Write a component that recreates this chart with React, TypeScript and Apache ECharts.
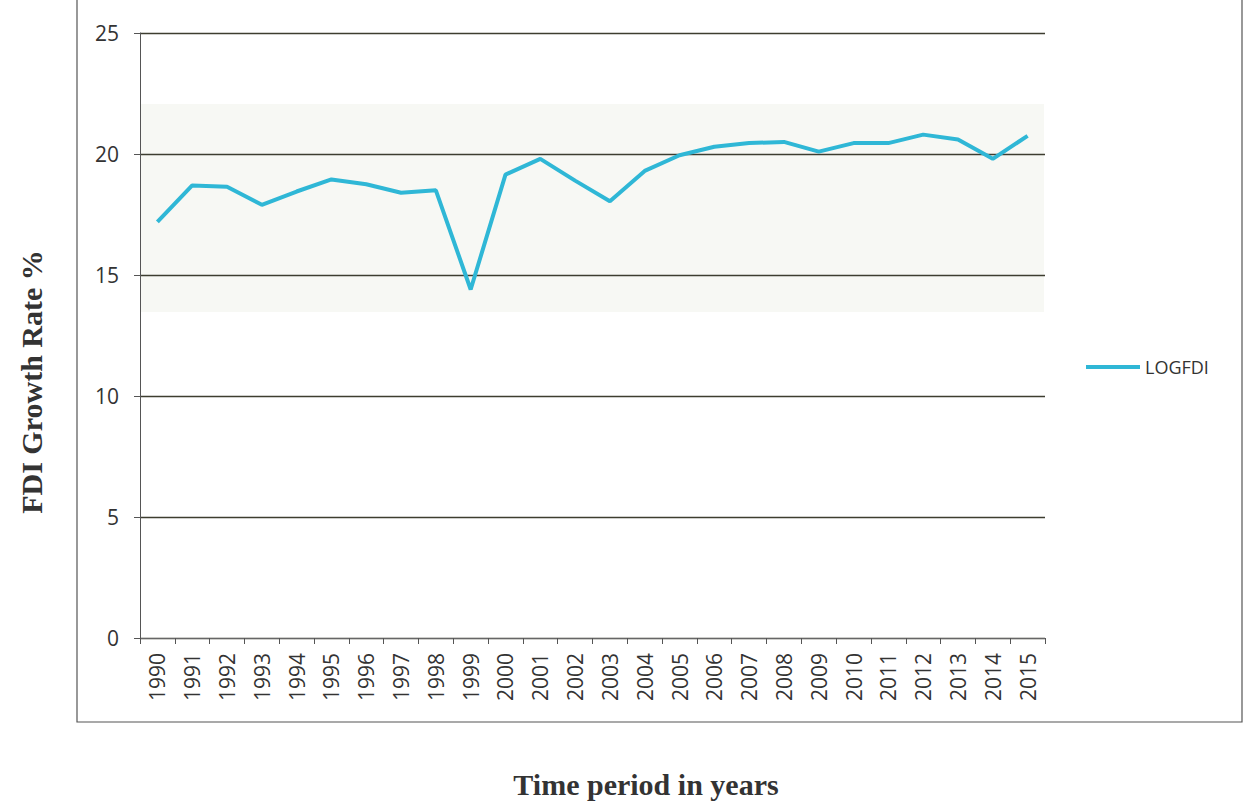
import React, { useEffect, useRef } from "react";
import * as echarts from "echarts";

const years = ["1990","1991","1992","1993","1994","1995","1996","1997","1998","1999","2000","2001","2002","2003","2004","2005","2006","2007","2008","2009","2010","2011","2012","2013","2014","2015"];
const logfdi = [17.2,18.7,18.65,17.9,18.45,18.95,18.75,18.4,18.5,14.4,19.15,19.8,18.9,18.05,19.3,19.95,20.3,20.45,20.5,20.1,20.45,20.45,20.8,20.6,19.8,20.75];
const yTicks = { min: 0, max: 25, interval: 5 };
const seriesName = "LOGFDI";
const xTitle = "Time period in years";
const yTitle = "FDI Growth Rate %";

export default function App() {
  const ref = useRef<HTMLDivElement>(null);
  useEffect(() => {
    if (!ref.current) return;
    const chart = echarts.init(ref.current, null, { renderer: "svg" });
    chart.setOption({
      animation: false,
      backgroundColor: "#ffffff",
      grid: { left: 140, right: 199, top: 33, bottom: 164, containLabel: false },
      legend: {
        show: true,
        left: 1081,
        top: 353,
        icon: "rect",
        itemWidth: 54,
        itemHeight: 4,
        itemGap: 3,
        textStyle: { fontFamily: "Open Sans", fontSize: 18, color: "#333" },
        data: [seriesName],
      },
      xAxis: {
        type: "category",
        data: years,
        boundaryGap: true,
        axisLine: { show: true, lineStyle: { color: "#666", width: 1 } },
        axisTick: { show: true, interval: 0, length: 6, lineStyle: { color: "#555" } },
        axisLabel: {
          interval: 0,
          rotate: 90,
          margin: 15,
          fontFamily: "Open Sans",
          fontSize: 21,
          color: "#333",
        },
        splitLine: { show: false },
      },
      yAxis: {
        type: "value",
        min: yTicks.min,
        max: yTicks.max,
        interval: yTicks.interval,
        axisLine: { show: true, lineStyle: { color: "#555", width: 1 } },
        axisTick: { show: true, length: 6, lineStyle: { color: "#555" } },
        axisLabel: { margin: 21, fontFamily: "Open Sans", fontSize: 21, color: "#333" },
        splitLine: { show: true, lineStyle: { color: "#3d3d30", width: 1.3 } },
      },
      graphic: [
        {
          type: "rect",
          z: -10,
          silent: true,
          shape: { x: 141, y: 104, width: 903, height: 208 },
          style: { fill: "#f7f8f4" },
        },
        {
          type: "rect",
          silent: true,
          shape: { x: 77, y: -5, width: 1165, height: 727 },
          style: { fill: "none", stroke: "#555", lineWidth: 1.2 },
        },
        {
          type: "text",
          x: 31,
          y: 382,
          rotation: Math.PI / 2,
          style: {
            text: yTitle,
            x: 0,
            y: 0,
            align: "center",
            verticalAlign: "middle",
            fontFamily: "Liberation Serif",
            fontWeight: "bold",
            fontSize: 30,
            fill: "#333",
          },
        },
        {
          type: "text",
          style: {
            text: xTitle,
            x: 646,
            y: 784,
            align: "center",
            verticalAlign: "middle",
            fontFamily: "Liberation Serif",
            fontWeight: "bold",
            fontSize: 30,
            fill: "#333",
          },
        },
      ],
      series: [
        {
          name: seriesName,
          type: "line",
          data: logfdi,
          showSymbol: false,
          symbol: "none",
          lineStyle: { color: "#2fb7d6", width: 4 },
          itemStyle: { color: "#2fb7d6" },
        },
      ],
    });
    return () => chart.dispose();
  }, []);
  return (
    <div
      ref={ref}
      style={{ position: "absolute", left: 0, top: 0, width: 1244, height: 802 }}
    />
  );
}
